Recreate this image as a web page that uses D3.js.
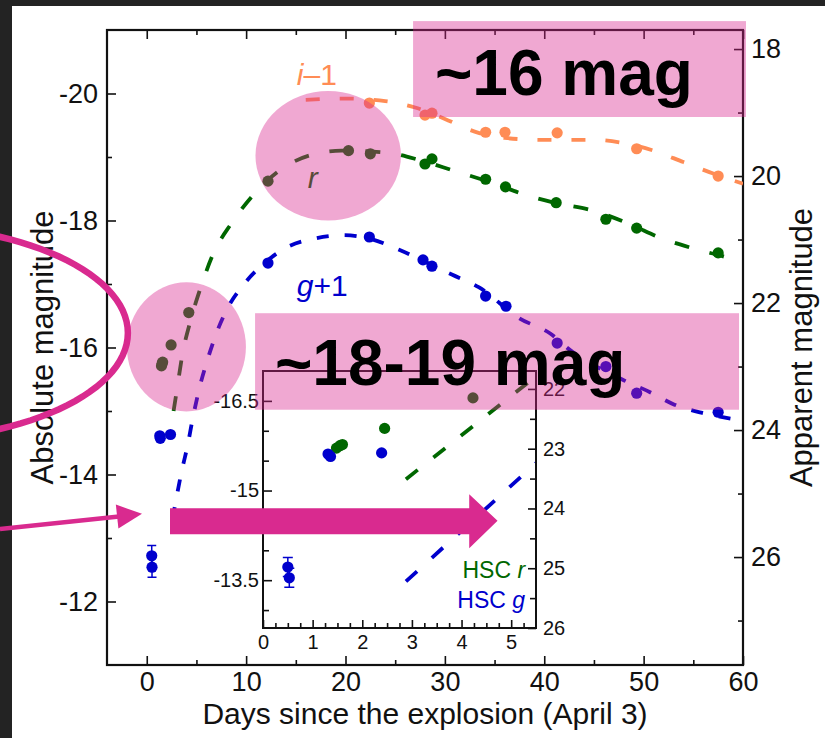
<!DOCTYPE html>
<html>
<head>
<meta charset="utf-8">
<script src="https://cdn.jsdelivr.net/npm/d3@7"></script>
<style>
  html, body { margin: 0; padding: 0; background: #fff; }
  svg { display: block; }
</style>
</head>
<body>
<script>
'use strict'

const font = "'Liberation Sans', Arial, Helvetica, sans-serif"
const W = 825
const H = 738

// distance modulus linking absolute and apparent magnitude
const distMod = 38.7
// offsets used for the curves of the main panel (i-1, r, g+1)
const iShift = -1
const rShift = 0
const gShift = 1

// photometry: [days since explosion, absolute magnitude (, error)]
const iPoints = [[22.4, -18.85], [28.0, -18.66], [28.7, -18.69], [34.1, -18.39], [36.05, -18.39],
  [41.3, -18.38], [49.3, -18.13], [57.5, -17.7]]
const rPoints = [[1.48, -15.71], [1.55, -15.75], [1.6, -15.77], [2.45, -16.04], [4.23, -16.55],
  [12.2, -18.62], [20.3, -19.1], [22.5, -19.05], [28.0, -18.89], [28.7, -18.97], [34.1, -18.65],
  [36.1, -18.53], [41.2, -18.28], [46.2, -18.02], [49.3, -17.88], [57.5, -17.49]]
const gPoints = [[0.5, -13.72, 0.16], [0.53, -13.54, 0.16], [1.31, -15.61], [1.36, -15.57],
  [2.39, -15.63], [12.2, -18.33], [22.4, -18.74], [27.8, -18.38], [28.7, -18.28], [34.1, -17.81],
  [36.15, -17.65], [41.3, -17.07], [46.2, -16.7], [49.3, -16.28], [57.5, -15.98]]

// model light curves (dashed)
const iCurve = [[16, -18.9], [20, -18.92], [24, -18.88], [27, -18.78], [30, -18.6], [33, -18.4],
  [36, -18.3], [40, -18.27], [45, -18.27], [48, -18.22], [51, -18.1], [54, -17.92], [57, -17.74],
  [60, -17.58]]
const rCurve = [[2.7, -15.0], [3.0, -15.3], [3.6, -15.9], [4.4, -16.42], [5.4, -16.93],
  [6.7, -17.48], [8.5, -17.95], [10.7, -18.4], [13.2, -18.77], [16.5, -19.03], [19.6, -19.1],
  [24, -19.07], [27.5, -18.95], [30.8, -18.79], [35, -18.58], [37.8, -18.42], [41.3, -18.27],
  [44.8, -18.16], [48.5, -17.95], [51.8, -17.72], [55, -17.56], [58.3, -17.42], [60, -17.33]]
const gCurve = [[2.6, -14.3], [2.9, -14.56], [3.5, -15.04], [4.1, -15.45], [4.65, -15.9],
  [5.3, -16.36], [6.1, -16.8], [7.0, -17.22], [8.2, -17.64], [9.8, -18.0], [12, -18.35],
  [14, -18.57], [17, -18.72], [19.8, -18.77], [22, -18.73], [25.4, -18.54], [28, -18.35],
  [30.7, -18.15], [33.4, -17.95], [37.5, -17.46], [40.6, -17.22], [42.6, -16.96], [47.8, -16.5],
  [50.6, -16.3], [53.1, -16.1], [55.9, -15.97], [58.8, -15.88], [60, -15.85]]

// early HSC model lines shown in the inset
const hscRLine = [[2.88, -15.19], [5.5, -16.91]]
const hscGLine = [[2.88, -13.48], [5.5, -15.46]]

// ticks
const dayMajor = [0, 10, 20, 30, 40, 50, 60]
const dayMinor = [5, 15, 25, 35, 45, 55]
const absMajor = [-20, -18, -16, -14, -12]
const absMinor = [-19, -17, -15, -13]
const appMajor = [18, 20, 22, 24, 26]
const appMinor = [19, 21, 23, 25, 27]
const insetDayMajor = [0, 1, 2, 3, 4, 5]
const insetDayMinor = d3.range(0.25, 5.5, 0.25).filter(d => d % 1 !== 0)
const insetAbsMajor = [-16.5, -15, -13.5]
const insetAbsMinor = [-16, -15.5, -14.5, -14, -13]
const insetAppMajor = [22, 23, 24, 25, 26]
const insetAppMinor = [22.5, 23.5, 24.5, 25.5]

const colors = { i: '#ff8c55', r: '#006700', g: '#0000cd' }
const magenta = '#d92a8f'
const veil = 'rgba(217, 37, 142, 0.4)'

const svg = d3.select('body').append('svg')
  .attr('width', W)
  .attr('height', H)
  .style('font-family', font)

svg.append('rect').attr('width', W).attr('height', H).attr('fill', '#fff')
svg.append('rect').attr('width', W).attr('height', 6).attr('fill', '#232323')
svg.append('rect').attr('width', 12).attr('height', H).attr('fill', '#232323')

// ---------- main panel ----------
const box = { left: 107, top: 30, right: 743, bottom: 665 }
const x = d3.scaleLinear().domain([-4, 60]).range([box.left, box.right])
const yAbs = d3.scaleLinear().domain([-21, -11]).range([box.top, box.bottom])
const yApp = yAbs.copy().domain(yAbs.domain().map(m => m + distMod))

const defs = svg.append('defs')
defs.append('clipPath').attr('id', 'clipMain').append('rect')
  .attr('x', box.left).attr('y', box.top)
  .attr('width', box.right - box.left).attr('height', box.bottom - box.top)

function styleAxis (g, size) {
  g.attr('font-family', font).attr('font-size', size)
  g.select('.domain').remove()
  g.selectAll('.tick line').attr('stroke', '#111').attr('stroke-width', 1.6)
  g.selectAll('.tick text').attr('fill', '#111')
}

function addAxis (parent, axis, tx, ty, size) {
  parent.append('g')
    .attr('transform', 'translate(' + tx + ',' + ty + ')')
    .call(axis)
    .call(g => styleAxis(g, size))
}

const label = d => String(d)
const main = svg.append('g')

addAxis(main, d3.axisBottom(x).tickValues(dayMajor).tickSize(-9).tickPadding(7).tickFormat(label), 0, box.bottom, 27)
addAxis(main, d3.axisBottom(x).tickValues(dayMinor).tickSize(-5).tickFormat(''), 0, box.bottom, 27)
addAxis(main, d3.axisTop(x).tickValues(dayMajor).tickSize(-9).tickFormat(''), 0, box.top, 27)
addAxis(main, d3.axisTop(x).tickValues(dayMinor).tickSize(-5).tickFormat(''), 0, box.top, 27)
addAxis(main, d3.axisLeft(yAbs).tickValues(absMajor).tickSize(-9).tickPadding(9).tickFormat(label), box.left, 0, 27)
addAxis(main, d3.axisLeft(yAbs).tickValues(absMinor).tickSize(-5).tickFormat(''), box.left, 0, 27)
addAxis(main, d3.axisRight(yApp).tickValues(appMajor).tickSize(-9).tickPadding(8).tickFormat(label), box.right, 0, 27)
addAxis(main, d3.axisRight(yApp).tickValues(appMinor).tickSize(-5).tickFormat(''), box.right, 0, 27)

main.append('rect')
  .attr('x', box.left).attr('y', box.top)
  .attr('width', box.right - box.left).attr('height', box.bottom - box.top)
  .attr('fill', 'none').attr('stroke', '#111').attr('stroke-width', 2.2)

main.append('text')
  .attr('x', (box.left + box.right) / 2).attr('y', 724)
  .attr('text-anchor', 'middle').attr('font-size', 30).attr('fill', '#111')
  .text('Days since the explosion (April 3)')
main.append('text')
  .attr('transform', 'translate(53,' + (box.top + box.bottom) / 2 + ') rotate(-90)')
  .attr('text-anchor', 'middle').attr('font-size', 31).attr('fill', '#111')
  .text('Absolute magnitude')
main.append('text')
  .attr('transform', 'translate(812,' + (box.top + box.bottom) / 2 + ') rotate(-90)')
  .attr('text-anchor', 'middle').attr('font-size', 31).attr('fill', '#111')
  .text('Apparent magnitude')

const bands = [
  { key: 'i', shift: iShift, dash: '14,20', curve: iCurve, points: iPoints },
  { key: 'r', shift: rShift, dash: '15,21', curve: rCurve, points: rPoints },
  { key: 'g', shift: gShift, dash: '12,16', curve: gCurve, points: gPoints }
]

const curves = main.append('g').attr('clip-path', 'url(#clipMain)')
bands.forEach(function (b) {
  const line = d3.line()
    .x(d => x(d[0]))
    .y(d => yAbs(d[1] + b.shift))
    .curve(d3.curveMonotoneX)
  curves.append('path')
    .datum(b.curve)
    .attr('d', line)
    .attr('fill', 'none')
    .attr('stroke', colors[b.key])
    .attr('stroke-width', 3.8)
    .attr('stroke-dasharray', b.dash)
})

function drawPoints (parent, data, color, xs, ys, shift, capW) {
  const withErr = data.filter(d => d[2])
  parent.selectAll(null).data(withErr).enter().append('path')
    .attr('d', function (d) {
      const px = xs(d[0])
      const y0 = ys(d[1] + shift - d[2])
      const y1 = ys(d[1] + shift + d[2])
      return 'M' + px + ',' + y0 + 'V' + y1 +
        'M' + (px - capW) + ',' + y0 + 'H' + (px + capW) +
        'M' + (px - capW) + ',' + y1 + 'H' + (px + capW)
    })
    .attr('fill', 'none').attr('stroke', color).attr('stroke-width', 1.5)
  parent.selectAll(null).data(data).enter().append('circle')
    .attr('cx', d => xs(d[0]))
    .attr('cy', d => ys(d[1] + shift))
    .attr('r', 5.6)
    .attr('fill', color)
}

const dots = main.append('g').attr('clip-path', 'url(#clipMain)')
bands.forEach(b => drawPoints(dots, b.points, colors[b.key], x, yAbs, b.shift, 4.5))

function bandLabel (parent, px, py, italic, rest, color) {
  const t = parent.append('text')
    .attr('x', px).attr('y', py)
    .attr('font-size', 30).attr('fill', color)
  t.append('tspan').attr('font-style', 'italic').text(italic)
  if (rest) t.append('tspan').text(rest)
}
bandLabel(main, x(15.1), yAbs(-20.13), 'i', '\u20131', colors.i)
bandLabel(main, x(16.2), yAbs(-18.51), 'r', '', colors.r)
bandLabel(main, x(15.1), yAbs(-16.81), 'g', '+1', colors.g)

// ---------- inset ----------
const ibox = { left: 263, top: 371, right: 536, bottom: 628 }
const ix = d3.scaleLinear().domain([0, 5.5]).range([ibox.left, ibox.right])
const iyApp = d3.scaleLinear().domain([21.7, 26]).range([ibox.top, ibox.bottom])
const iyAbs = iyApp.copy().domain(iyApp.domain().map(m => m - distMod))

defs.append('clipPath').attr('id', 'clipInset').append('rect')
  .attr('x', ibox.left).attr('y', ibox.top)
  .attr('width', ibox.right - ibox.left).attr('height', ibox.bottom - ibox.top)

const inset = svg.append('g')
inset.append('rect')
  .attr('x', ibox.left).attr('y', ibox.top)
  .attr('width', ibox.right - ibox.left).attr('height', ibox.bottom - ibox.top)
  .attr('fill', '#fff')

addAxis(inset, d3.axisBottom(ix).tickValues(insetDayMajor).tickSize(-8).tickPadding(7).tickFormat(label), 0, ibox.bottom, 20)
addAxis(inset, d3.axisBottom(ix).tickValues(insetDayMinor).tickSize(-5).tickFormat(''), 0, ibox.bottom, 20)
addAxis(inset, d3.axisLeft(iyAbs).tickValues(insetAbsMajor).tickSize(-9).tickPadding(4).tickFormat(label), ibox.left, 0, 20)
addAxis(inset, d3.axisLeft(iyAbs).tickValues(insetAbsMinor).tickSize(-6).tickFormat(''), ibox.left, 0, 20)
addAxis(inset, d3.axisRight(iyApp).tickValues(insetAppMajor).tickSize(-8).tickPadding(7).tickFormat(label), ibox.right, 0, 20)
addAxis(inset, d3.axisRight(iyApp).tickValues(insetAppMinor).tickSize(-6).tickFormat(''), ibox.right, 0, 20)

const insetLine = d3.line().x(d => ix(d[0])).y(d => iyAbs(d[1]))
const insetPlot = inset.append('g').attr('clip-path', 'url(#clipInset)')
insetPlot.append('path').datum(hscRLine).attr('d', insetLine)
  .attr('fill', 'none').attr('stroke', colors.r).attr('stroke-width', 3.8).attr('stroke-dasharray', '15,20')
insetPlot.append('path').datum(hscGLine).attr('d', insetLine)
  .attr('fill', 'none').attr('stroke', colors.g).attr('stroke-width', 3.8).attr('stroke-dasharray', '15,20')
drawPoints(insetPlot, rPoints.filter(d => d[0] < 5.5), colors.r, ix, iyAbs, 0, 5)
drawPoints(insetPlot, gPoints.filter(d => d[0] < 5.5), colors.g, ix, iyAbs, 0, 5)

inset.append('rect')
  .attr('x', ibox.left).attr('y', ibox.top)
  .attr('width', ibox.right - ibox.left).attr('height', ibox.bottom - ibox.top)
  .attr('fill', 'none').attr('stroke', '#111').attr('stroke-width', 2)

const legendItems = [['HSC ', 'r', colors.r, -13.54], ['HSC ', 'g', colors.g, -13.04]]
legendItems.forEach(function (it) {
  const t = inset.append('text')
    .attr('x', ix(5.28)).attr('y', iyAbs(it[3]))
    .attr('text-anchor', 'end').attr('font-size', 23).attr('fill', it[2])
  t.append('tspan').text(it[0])
  t.append('tspan').attr('font-style', 'italic').text(it[1])
})

// ---------- slide annotations (placed in main-panel units) ----------
const notes = svg.append('g')

notes.append('ellipse')
  .attr('cx', x(18.26)).attr('cy', yAbs(-19.02))
  .attr('rx', x(7.32) - x(0)).attr('ry', yAbs(-19.98) - yAbs(-21))
  .attr('fill', veil)
notes.append('ellipse')
  .attr('cx', x(3.99)).attr('cy', yAbs(-16.01))
  .attr('rx', x(5.99) - x(0)).attr('ry', yAbs(-19.984) - yAbs(-21))
  .attr('fill', veil)

notes.append('rect')
  .attr('x', x(26.8)).attr('y', yAbs(-21.14))
  .attr('width', x(60.3) - x(26.8)).attr('height', yAbs(-19.63) - yAbs(-21.14))
  .attr('fill', veil)
notes.append('rect')
  .attr('x', x(10.9)).attr('y', yAbs(-16.54))
  .attr('width', x(59.6) - x(10.9)).attr('height', yAbs(-15.02) - yAbs(-16.54))
  .attr('fill', veil)

notes.append('text')
  .attr('x', x(29.0)).attr('y', yAbs(-19.98))
  .attr('font-size', 64).attr('font-weight', 'bold').attr('fill', '#000')
  .text('~16 mag')
notes.append('text')
  .attr('x', x(12.9)).attr('y', yAbs(-15.41))
  .attr('font-size', 64).attr('font-weight', 'bold').attr('fill', '#000')
  .text('~18-19 mag')

// big arc entering from the left edge
const arcC = [x(-25.55), yAbs(-16.23)]
const arcR = [x(23.65) - x(0), yAbs(-19.3) - yAbs(-21)]
notes.append('path')
  .attr('d', d3.range(-90, 91, 3).map(function (a, k) {
    const t = a * Math.PI / 180
    return (k ? 'L' : 'M') + (arcC[0] + arcR[0] * Math.cos(t)) + ',' + (arcC[1] + arcR[1] * Math.sin(t))
  }).join(''))
  .attr('fill', 'none').attr('stroke', magenta).attr('stroke-width', 6.5)

// thin arrow
const thinTail = [x(-14.77), yAbs(-13.14)]
const thinTip = [x(-0.48), yAbs(-13.38)]
const ang = Math.atan2(thinTip[1] - thinTail[1], thinTip[0] - thinTail[0])
const headLen = 25
const headHalf = 12
const baseP = [thinTip[0] - headLen * Math.cos(ang), thinTip[1] - headLen * Math.sin(ang)]
notes.append('line')
  .attr('x1', thinTail[0]).attr('y1', thinTail[1])
  .attr('x2', baseP[0] + 2).attr('y2', baseP[1])
  .attr('stroke', magenta).attr('stroke-width', 4.5)
notes.append('path')
  .attr('d', 'M' + thinTip + 'L' + [baseP[0] + headHalf * Math.sin(ang), baseP[1] - headHalf * Math.cos(ang)] +
    'L' + [baseP[0] - headHalf * Math.sin(ang), baseP[1] + headHalf * Math.cos(ang)] + 'Z')
  .attr('fill', magenta)

// thick arrow
const ax0 = x(2.34)
const ax1 = x(32.45)
const ax2 = x(35.3)
const ay0 = yAbs(-13.47)
const ay1 = yAbs(-13.06)
const ayTop = yAbs(-13.69)
const ayBot = yAbs(-12.84)
const ayMid = yAbs(-13.27)
notes.append('path')
  .attr('d', 'M' + ax0 + ',' + ay0 + 'H' + ax1 + 'V' + ayTop + 'L' + ax2 + ',' + ayMid +
    'L' + ax1 + ',' + ayBot + 'V' + ay1 + 'H' + ax0 + 'Z')
  .attr('fill', magenta)
</script>
</body>
</html>
